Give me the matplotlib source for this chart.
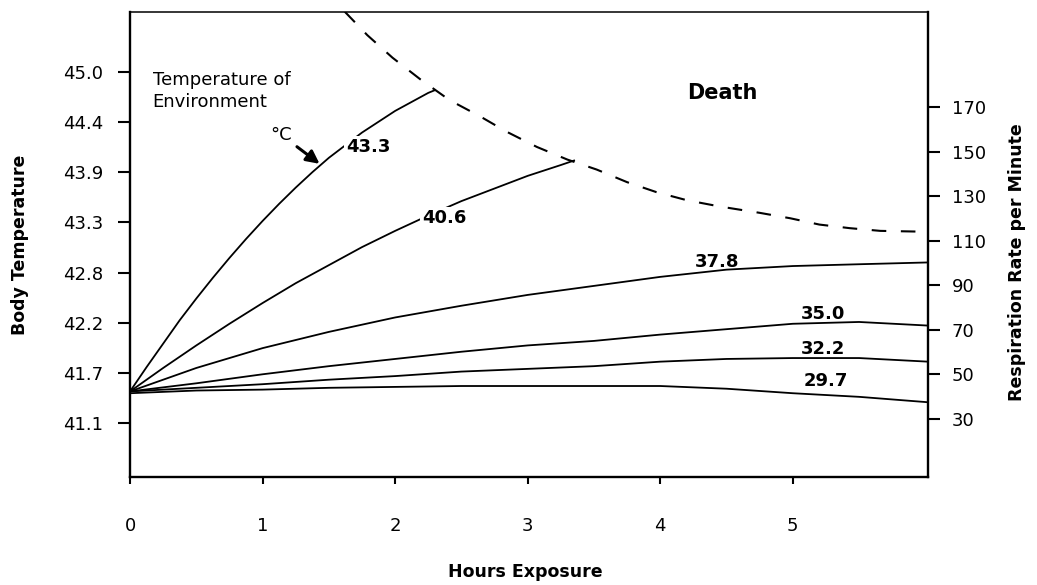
import matplotlib
matplotlib.use("Agg")
import matplotlib.pyplot as plt

# body temperature (deg C) vs hours of exposure,
# one curve per environment temperature
hours_433 = [0, 0.125, 0.25, 0.375, 0.5, 0.625, 0.75, 0.875, 1.0, 1.125, 1.25,
             1.375, 1.5, 1.625, 1.75, 1.875, 2.0, 2.125, 2.25, 2.3]
temp_433 = [41.46, 41.73, 41.99, 42.25, 42.49, 42.72, 42.94, 43.15, 43.35,
            43.54, 43.72, 43.89, 44.05, 44.19, 44.33, 44.45, 44.57, 44.67,
            44.77, 44.80]

hours_406 = [0, 0.25, 0.5, 0.75, 1.0, 1.25, 1.5, 1.75, 2.0, 2.25, 2.5, 2.75,
             3.0, 3.25, 3.35]
temp_406 = [41.46, 41.72, 41.97, 42.21, 42.44, 42.66, 42.86, 43.06, 43.24,
            43.41, 43.57, 43.71, 43.85, 43.97, 44.02]

hours_long = [0, 0.5, 1.0, 1.5, 2.0, 2.5, 3.0, 3.5, 4.0, 4.5, 5.0, 5.5, 6.02]
temp_378 = [41.46, 41.72, 41.94, 42.12, 42.28, 42.41, 42.53, 42.63, 42.73,
            42.81, 42.85, 42.87, 42.89]
temp_350 = [41.46, 41.55, 41.65, 41.74, 41.82, 41.90, 41.97, 42.02, 42.09,
            42.15, 42.21, 42.23, 42.19]
temp_322 = [41.46, 41.50, 41.54, 41.59, 41.63, 41.68, 41.71, 41.74, 41.79,
            41.82, 41.83, 41.83, 41.79]
temp_297 = [41.44, 41.47, 41.48, 41.50, 41.51, 41.52, 41.52, 41.52, 41.52,
            41.49, 41.44, 41.40, 41.34]

# lethal limit (dashed)
death_hours = [1.62, 1.79, 1.98, 2.19, 2.41, 2.64, 2.84, 3.07, 3.30, 3.52,
               3.75, 3.97, 4.20, 4.45, 4.75, 4.98, 5.20, 5.43, 5.66, 6.02]
death_temp = [45.67, 45.41, 45.16, 44.92, 44.69, 44.51, 44.34, 44.17, 44.03,
              43.92, 43.78, 43.67, 43.58, 43.51, 43.44, 43.38, 43.31, 43.27,
              43.24, 43.23]

# the body temperature axis is evenly spaced in deg F, labelled in deg C
body_ticks_f = [106, 107, 108, 109, 110, 111, 112, 113]
body_tick_labels = ["41.1", "41.7", "42.2", "42.8", "43.3", "43.9", "44.4", "45.0"]
resp_ticks = [30, 50, 70, 90, 110, 130, 150, 170]
hour_ticks = [0, 1, 2, 3, 4, 5]


def to_f(temps):
    return [c * 9 / 5 + 32 for c in temps]


fig = plt.figure(figsize=(10.37, 5.85), dpi=100)
ax = fig.add_axes([0.1254, 0.1846, 0.7695, 0.7949])
ax2 = ax.twinx()

curves = [(hours_433, temp_433), (hours_406, temp_406),
          (hours_long, temp_378), (hours_long, temp_350),
          (hours_long, temp_322), (hours_long, temp_297)]
for h, t in curves:
    ax.plot(h, to_f(t), color="black", lw=1.3)

ax.plot(death_hours, to_f(death_temp), color="black", lw=1.5,
        linestyle=(0, (7, 7)))

# curve labels
lab_kw = dict(fontsize=13, fontweight="bold", ha="center", va="center")
ax.text(1.80, 111.51, "43.3", bbox=dict(fc="white", ec="none", pad=1.5), **lab_kw)
ax.text(2.375, 110.09, "40.6", bbox=dict(fc="white", ec="none", pad=1.5), **lab_kw)
ax.text(4.43, 109.21, "37.8", **lab_kw)
ax.text(5.23, 108.18, "35.0", **lab_kw)
ax.text(5.23, 107.48, "32.2", **lab_kw)
ax.text(5.25, 106.84, "29.7", **lab_kw)

ax.text(4.47, 112.59, "Death", fontsize=15, fontweight="bold",
        ha="center", va="center")
ax.text(0.17, 113.02, "Temperature of\nEnvironment", fontsize=13,
        ha="left", va="top", linespacing=1.25)
ax.annotate("°C", xy=(1.43, 111.17), xytext=(1.14, 111.75), fontsize=13,
            ha="center", va="center",
            arrowprops=dict(arrowstyle="-|>,head_length=0.6,head_width=0.3",
                            color="black", lw=2.2, shrinkA=2, shrinkB=0))

ax.set_xlim(0, 6.02)
ax.set_ylim(104.92, 114.20)
ax.set_xticks(hour_ticks)
ax.set_yticks(body_ticks_f)
ax.set_yticklabels(body_tick_labels)
ax2.set_ylim(4.0, 212.6)
ax2.set_yticks(resp_ticks)

ax.tick_params(axis="x", direction="out", length=5, width=1.5, pad=24, labelsize=13)
ax.tick_params(axis="y", direction="out", length=8.6, width=1.5, pad=11, labelsize=13)
ax2.tick_params(axis="y", direction="out", length=8.6, width=1.5, pad=8.6, labelsize=13)

for side in ["left", "bottom"]:
    ax.spines[side].set_linewidth(1.7)
ax.spines["top"].set_linewidth(1.1)
ax.spines["right"].set_visible(False)
for side in ["left", "bottom", "top"]:
    ax2.spines[side].set_visible(False)
ax2.spines["right"].set_linewidth(1.7)

ax.set_xlabel("Hours Exposure", fontsize=12.5, fontweight="bold", va="center")
ax.xaxis.set_label_coords(0.495, -0.204)
ax.set_ylabel("Body Temperature", fontsize=12.5, fontweight="bold", va="center")
ax.yaxis.set_label_coords(-0.138, 0.5)
ax2.set_ylabel("Respiration Rate per Minute", fontsize=12.5, fontweight="bold",
               va="center")
ax2.yaxis.set_label_coords(1.1115, 0.462)

fig.savefig("out.png", dpi=100)
